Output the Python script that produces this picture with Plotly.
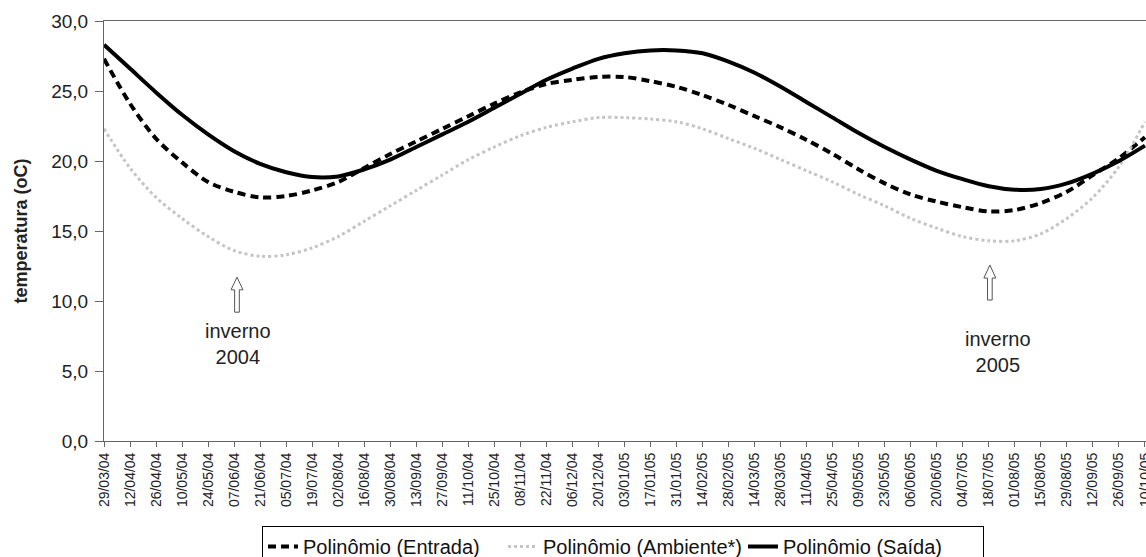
import plotly.graph_objects as go

dates = ["29/03/04", "12/04/04", "26/04/04", "10/05/04", "24/05/04", "07/06/04", "21/06/04",
         "05/07/04", "19/07/04", "02/08/04", "16/08/04", "30/08/04", "13/09/04", "27/09/04",
         "11/10/04", "25/10/04", "08/11/04", "22/11/04", "06/12/04", "20/12/04", "03/01/05",
         "17/01/05", "31/01/05", "14/02/05", "28/02/05", "14/03/05", "28/03/05", "11/04/05",
         "25/04/05", "09/05/05", "23/05/05", "06/06/05", "20/06/05", "04/07/05", "18/07/05",
         "01/08/05", "15/08/05", "29/08/05", "12/09/05", "26/09/05", "10/10/05"]

entrada = [27.3, 24.1, 21.6, 19.9, 18.5, 17.8, 17.4, 17.5, 17.9, 18.5, 19.5, 20.5, 21.4, 22.3,
           23.2, 24.1, 24.9, 25.5, 25.8, 26.0, 26.0, 25.7, 25.3, 24.7, 24.0, 23.2, 22.4, 21.5,
           20.5, 19.4, 18.4, 17.6, 17.1, 16.7, 16.4, 16.5, 17.0, 17.8, 19.0, 20.2, 21.7]

ambiente = [22.3, 19.5, 17.4, 15.9, 14.6, 13.6, 13.2, 13.3, 13.8, 14.6, 15.7, 16.8, 17.9, 19.0,
            20.1, 21.0, 21.8, 22.4, 22.8, 23.1, 23.1, 23.0, 22.8, 22.3, 21.6, 20.9, 20.1, 19.3,
            18.5, 17.6, 16.8, 15.9, 15.2, 14.6, 14.3, 14.3, 14.8, 15.9, 17.4, 19.6, 22.8]

saida = [28.3, 26.6, 24.9, 23.3, 21.9, 20.7, 19.8, 19.2, 18.85, 18.9, 19.4, 20.1, 21.0, 21.9,
         22.8, 23.8, 24.8, 25.8, 26.6, 27.3, 27.7, 27.9, 27.9, 27.7, 27.1, 26.3, 25.3, 24.2,
         23.1, 22.0, 21.0, 20.1, 19.3, 18.7, 18.2, 17.95, 18.0, 18.4, 19.1, 20.0, 21.1]

y_ticks = [0, 5, 10, 15, 20, 25, 30]
y_labels = ["0,0", "5,0", "10,0", "15,0", "20,0", "25,0", "30,0"]

idx = list(range(len(dates)))
FONT = "Liberation Sans, Arial, sans-serif"

fig = go.Figure()
fig.add_trace(go.Scatter(x=idx, y=entrada, mode="lines", name="Polinômio (Entrada)",
                         line=dict(color="black", width=4, dash="8px,5px", shape="spline",
                                   smoothing=0.9)))
fig.add_trace(go.Scatter(x=idx, y=ambiente, mode="lines", name="Polinômio (Ambiente*)",
                         line=dict(color="#c4c4c4", width=3, dash="dot", shape="spline",
                                   smoothing=0.9)))
fig.add_trace(go.Scatter(x=idx, y=saida, mode="lines", name="Polinômio (Saída)",
                         line=dict(color="black", width=4, shape="spline", smoothing=0.9)))

# hollow up arrows (winter markers)
def arrow(xc, yb, yh, yt, hw=0.23, sw=0.09):
    return (f"M {xc-sw} {yb} L {xc+sw} {yb} L {xc+sw} {yh} L {xc+hw} {yh} "
            f"L {xc} {yt} L {xc-hw} {yh} L {xc-sw} {yh} Z")

fig.add_shape(type="path", path=arrow(5.11, 9.2, 10.8, 11.7), xref="x", yref="y",
              line=dict(color="#555", width=1), fillcolor="white")
fig.add_shape(type="path", path=arrow(34.04, 10.07, 11.64, 12.57), xref="x", yref="y",
              line=dict(color="#555", width=1), fillcolor="white")

fig.add_annotation(x=5.15, y=6.9, xref="x", yref="y", text="inverno<br>2004", showarrow=False,
                   font=dict(family=FONT, size=20, color="#222"), align="center")
fig.add_annotation(x=34.35, y=6.35, xref="x", yref="y", text="inverno<br>2005", showarrow=False,
                   font=dict(family=FONT, size=20, color="#222"), align="center")

fig.update_layout(
    width=1146, height=557,
    margin=dict(l=104, r=0, t=21, b=116, autoexpand=False),
    paper_bgcolor="white", plot_bgcolor="white",
    font=dict(family=FONT, color="#222"),
    showlegend=True,
    legend=dict(orientation="h", xref="container", yref="container",
                x=262 / 1146, y=1 - 526 / 557, xanchor="left", yanchor="top",
                bordercolor="black", borderwidth=1, font=dict(size=20, family=FONT, color="#111"),
                entrywidth=195, entrywidthmode="pixels", tracegroupgap=0),
    xaxis=dict(range=[0, 40.04], tickmode="array", tickvals=idx, ticktext=dates,
               tickangle=-90, tickfont=dict(size=14, family=FONT, color="#222"),
               ticklabeloverflow="allow",
               showgrid=False, zeroline=False, showline=True, linecolor="#666", linewidth=1,
               ticks="outside", ticklen=5, tickcolor="#666", mirror=True, automargin=False),
    yaxis=dict(range=[0, 30], tickmode="array", tickvals=y_ticks, ticktext=y_labels,
               tickfont=dict(size=19, family=FONT, color="#222"), ticklabelstandoff=3,
               showgrid=False, zeroline=False, showline=True, linecolor="#666", linewidth=1,
               ticks="outside", ticklen=8, tickcolor="#666", automargin=False,
               title=dict(text="<b>temperatura (oC)</b>", font=dict(size=18, family=FONT, color="#222"),
                          standoff=18)),
)

fig.write_html("out.html", config={"displayModeBar": False},
               post_script="document.body.style.margin='0';document.body.style.overflow='hidden';")
